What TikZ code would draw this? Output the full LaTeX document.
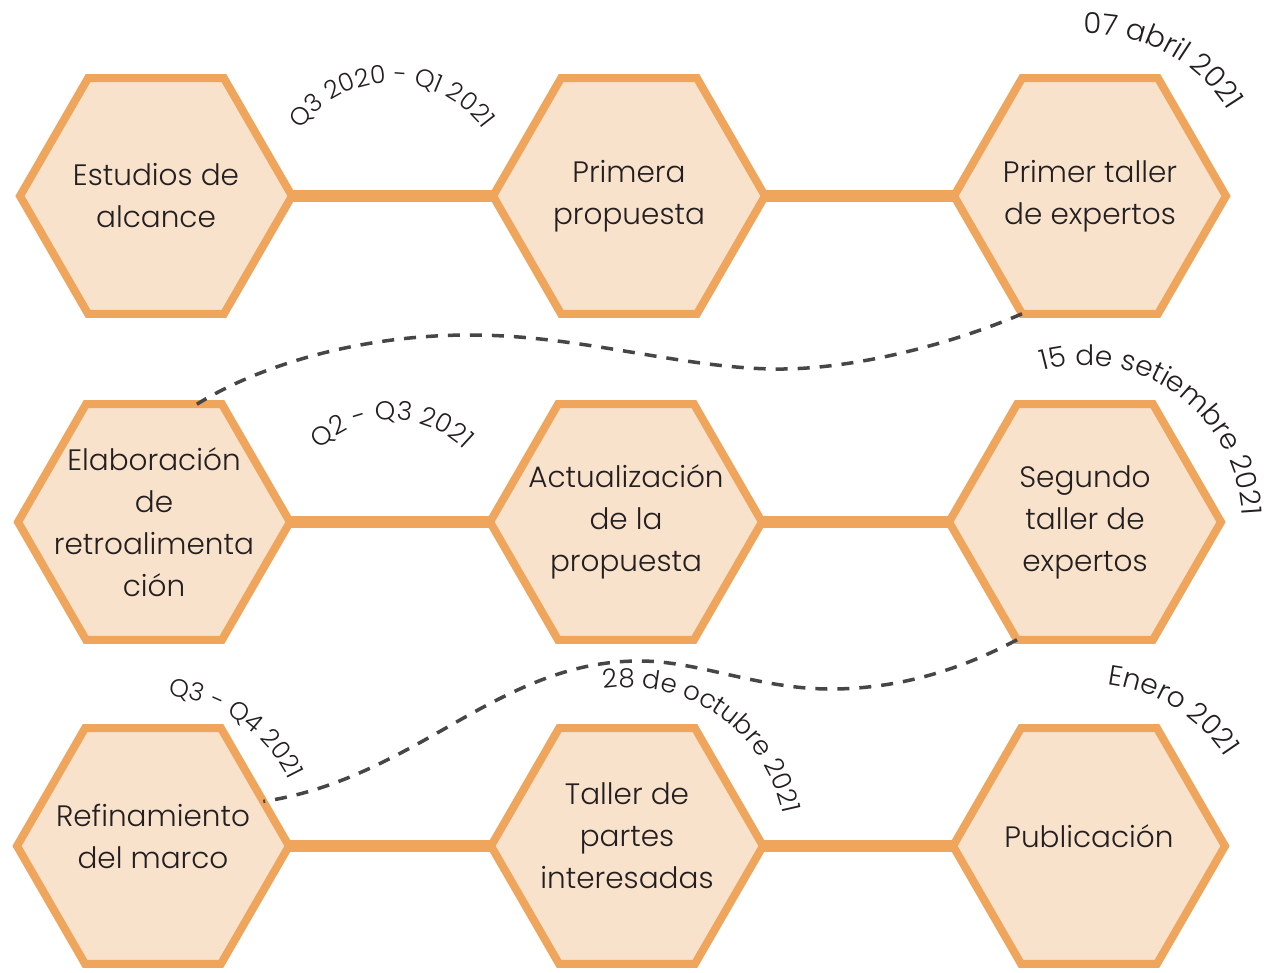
\documentclass[tikz,border=0pt]{standalone}
\usepackage{fontspec}
\setmainfont{Poppins Light}
\usetikzlibrary{shapes.geometric,decorations.text,backgrounds}
\definecolor{hexline}{RGB}{240,165,93}
\definecolor{hexfill}{RGB}{249,226,204}
\definecolor{txtc}{RGB}{35,31,32}
\definecolor{dashc}{RGB}{70,70,70}
\newcommand\hexfont{\fontsize{29.5}{42}\selectfont}
\newcommand\lblfont[1]{\fontsize{#1}{#1}\selectfont}
\begin{document}
\begin{tikzpicture}[x=1pt,y=-1pt,
 hexa/.style={regular polygon, regular polygon sides=6,
   minimum size=272pt, inner sep=0pt, outer sep=0pt, draw=hexline, line width=8pt, fill=hexfill},
 hextext/.style={align=center, font=\hexfont, text=txtc, inner sep=0pt},
 conn/.style={draw=hexline, line width=12pt},
 dashconn/.style={draw=dashc, line width=3.5pt, dash pattern=on 12pt off 10pt},
 arclabel/.style={decorate, decoration={text along path, text align=center, text color=txtc}}
]
\useasboundingbox (0,0) rectangle (1279,972);
% hexagons
\node[hexa] (a1) at (156,196) {};
\node[hexa] (a2) at (629,196) {};
\node[hexa] (a3) at (1090,196) {};
\node[hexa] (b1) at (154,522) {};
\node[hexa] (b2) at (626,522) {};
\node[hexa] (b3) at (1085,522) {};
\node[hexa] (c1) at (153,846) {};
\node[hexa] (c2) at (627,846) {};
\node[hexa] (c3) at (1089,846) {};
% connectors
\begin{pgfonlayer}{background}
\fill[white] (0,0) rectangle (1279,972);
\draw[conn] (a1.center) -- (a2.center);
\draw[conn] (a2.center) -- (a3.center);
\draw[conn] (b1.center) -- (b2.center);
\draw[conn] (b2.center) -- (b3.center);
\draw[conn] (c1.center) -- (c2.center);
\draw[conn] (c2.center) -- (c3.center);
\end{pgfonlayer}
% texts
\node[hextext] (ta1) at (a1) {Estudios de\\alcance};
\node[hextext] (ta2) at (a2) {Primera\\propuesta};
\node[hextext] (ta3) at (a3) {Primer taller\\de expertos};
\node[hextext] (tb1) at (b1) {Elaboración\\de\\retroalimenta\\ción};
\node[hextext] (tb2) at (b2) {Actualización\\de la\\propuesta};
\node[hextext] (tb3) at (b3) {Segundo\\taller de\\expertos};
\node[hextext, yshift=10pt] (tc1) at (c1) {Refinamiento\\del marco};
\node[hextext, yshift=10pt] (tc2) at (c2) {Taller de\\partes\\interesadas};
\node[hextext, yshift=10pt] (tc3) at (c3) {Publicación};
% dashed links
\draw[dashconn] (a3.240) .. controls (950,345) and (850,370) .. (775,369)
  .. controls (680,368) and (580,335) .. (470,335)
  .. controls (360,335) and (260,365) .. (b1.70);
\draw[dashconn] (b3.240) .. controls (960,670) and (900,688) .. (835,689)
  .. controls (760,690) and (700,661) .. (640,661)
  .. controls (580,661) and (530,680) .. (460,720)
  .. controls (400,754) and (340,790) .. (c1.22);
% curved labels
\path[arclabel, decoration={text={|\lblfont{25}|Q3 2020 - Q1 2021}}]
  (392,196) ++(-175:113) arc[start angle=-175, end angle=-5, radius=113];
\path[arclabel, decoration={text={|\lblfont{29}|07 abril 2021}}]
  (1090,196) ++(-147:162) arc[start angle=-147, end angle=23, radius=162];
\path[arclabel, decoration={text={|\lblfont{28}|15 de setiembre 2021}}]
  (1085,522) ++(-139:157) arc[start angle=-139, end angle=31, radius=157];
\path[arclabel, decoration={text={|\lblfont{26}|Q2 - Q3 2021}}]
  (392,522) ++(-175:102) arc[start angle=-175, end angle=-5, radius=102];
\path[arclabel, decoration={text={|\lblfont{25}|Q3 - Q4 2021}}]
  (153,846) ++(-140:151) arc[start angle=-140, end angle=30, radius=151];
\path[arclabel, decoration={text={|\lblfont{26}|28 de octubre 2021}}]
  (627,846) ++(-140:159) arc[start angle=-140, end angle=30, radius=159];
\path[arclabel, decoration={text={|\lblfont{28}|Enero 2021}}]
  (1088,846) ++(-143:163) arc[start angle=-143, end angle=27, radius=163];
\end{tikzpicture}
\end{document}
